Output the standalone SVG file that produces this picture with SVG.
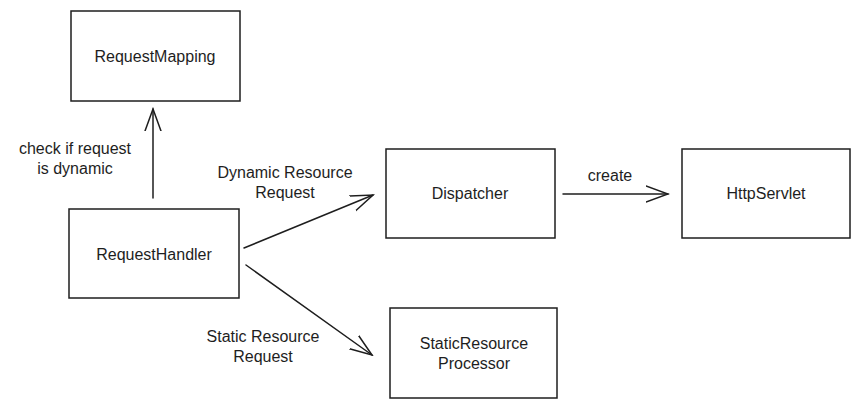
<svg xmlns="http://www.w3.org/2000/svg" width="859" height="405" viewBox="0 0 859 405">
<style>
.box{fill:#fff;stroke:#1e1e1e;stroke-width:1.5}
.t{font-family:"Liberation Sans",Arial,sans-serif;font-size:16px;fill:#1e1e1e;text-anchor:middle;dominant-baseline:central}
.c{stroke:#1e1e1e;stroke-width:1.5;fill:none;stroke-linecap:round}
</style>
<defs>
<marker id="ah" viewBox="0 0 24 20" refX="22" refY="10" markerWidth="24" markerHeight="20" markerUnits="userSpaceOnUse" orient="auto">
<path d="M0,2 L22,10 L0,18" fill="none" stroke="#1e1e1e" stroke-width="1.5" stroke-linecap="round"/>
</marker>
</defs>
<rect width="859" height="405" fill="#fff"/>
<g id="connectors">
<line class="c" x1="153" y1="198" x2="153" y2="109" marker-end="url(#ah)"/>
<line class="c" x1="244" y1="248" x2="373" y2="195" marker-end="url(#ah)"/>
<line class="c" x1="246" y1="265" x2="372" y2="355" marker-end="url(#ah)"/>
<line class="c" x1="563" y1="194" x2="668" y2="194" marker-end="url(#ah)"/>
<text class="t" x="75" y="148">check if request</text>
<text class="t" x="75" y="168">is dynamic</text>
<text class="t" x="285" y="172">Dynamic Resource</text>
<text class="t" x="285" y="192">Request</text>
<text class="t" x="263" y="336">Static Resource</text>
<text class="t" x="263" y="356">Request</text>
<text class="t" x="610" y="175">create</text>
</g>
<g id="RequestMapping">
<rect class="box" x="71" y="11" width="169" height="90"/>
<text class="t" x="155" y="56">RequestMapping</text>
</g>
<g id="RequestHandler">
<rect class="box" x="69" y="209" width="170" height="89"/>
<text class="t" x="154" y="254">RequestHandler</text>
</g>
<g id="Dispatcher">
<rect class="box" x="386" y="149" width="169" height="89"/>
<text class="t" x="470" y="193">Dispatcher</text>
</g>
<g id="HttpServlet">
<rect class="box" x="682" y="149" width="168" height="89"/>
<text class="t" x="766" y="193">HttpServlet</text>
</g>
<g id="StaticResourceProcessor">
<rect class="box" x="390" y="308" width="167" height="90"/>
<text class="t" x="474" y="343">StaticResource</text>
<text class="t" x="474" y="363">Processor</text>
</g>
</svg>
